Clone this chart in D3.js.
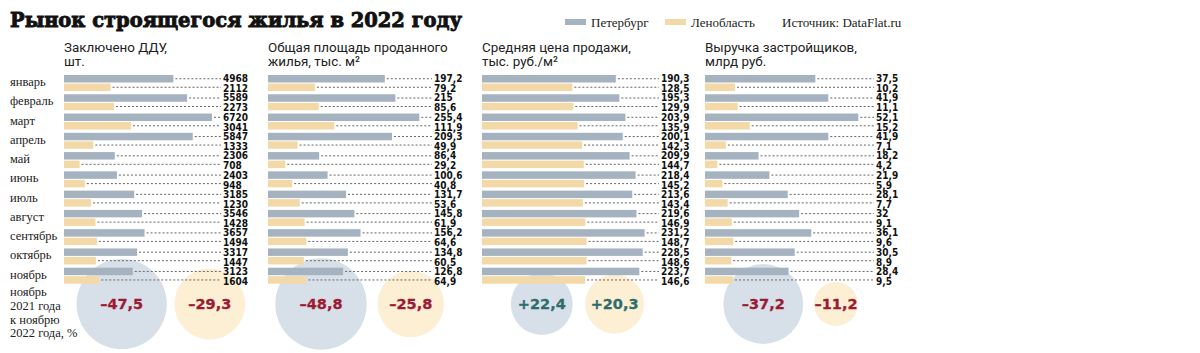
<!DOCTYPE html>
<html>
<head>
<meta charset="utf-8">
<script src="https://cdn.jsdelivr.net/npm/d3@7"></script>
<style>
  body { margin: 0; background: #fff; }
  svg { display: block; }
</style>
</head>
<body>
<div class="chart"></div>
<script>
var svgWidth = 1200;
var svgHeight = 353;

// data
var months = ["январь", "февраль", "март", "апрель", "май", "июнь", "июль", "август", "сентябрь", "октябрь", "ноябрь"];
var dduSpb = [4968, 5589, 6720, 5847, 2306, 2403, 3185, 3546, 3657, 3317, 3123];
var dduLo = [2112, 2273, 3041, 1333, 708, 948, 1230, 1428, 1494, 1447, 1604];
var areaSpb = [197.2, 215, 255.4, 209.3, 86.4, 100.6, 131.7, 145.8, 156.2, 134.8, 126.8];
var areaLo = [79.2, 85.6, 111.9, 49.9, 29.2, 40.8, 53.6, 61.9, 64.6, 60.5, 64.9];
var priceSpb = [190.3, 195.3, 203.9, 200.1, 209.9, 218.4, 213.6, 219.6, 231.2, 228.5, 223.7];
var priceLo = [128.5, 129.9, 135.9, 142.3, 144.7, 145.2, 143.4, 146.9, 148.7, 148.6, 146.6];
var revSpb = [37.5, 41.9, 52.1, 41.9, 18.2, 21.9, 28.1, 32, 36.1, 30.5, 28.4];
var revLo = [10.2, 11.1, 15.2, 7.1, 4.2, 5.9, 7.7, 9.1, 9.6, 8.9, 9.5];
var changeSpb = [-47.5, -48.8, 22.4, -37.2];
var changeLo = [-29.3, -25.8, 20.3, -11.2];
var headers = [
  ["Заключено ДДУ,", "шт."],
  ["Общая площадь проданного", "жилья, тыс. м²"],
  ["Средняя цена продажи,", "тыс. руб./м²"],
  ["Выручка застройщиков,", "млрд руб."]
];
var seriesNames = ["Петербург", "Ленобласть"];

// layout of the four panels
var panels = [
  { x: 64, max: 6720, maxW: 148, labelX: 223, c1: 57.7, c2: 145.8, spb: dduSpb, lo: dduLo },
  { x: 268, max: 255.4, maxW: 151.3, labelX: 434, c1: 53, c2: 142.8, spb: areaSpb, lo: areaLo },
  { x: 482, max: 231.2, maxW: 162.6, labelX: 661, c1: 59.8, c2: 132.6, spb: priceSpb, lo: priceLo },
  { x: 705, max: 52.1, maxW: 153.3, labelX: 876, c1: 58.3, c2: 131, spb: revSpb, lo: revLo }
];

var colSpb = "#a5b3c0";
var colLo = "#f3d9a7";
var circSpb = "#d7e0e8";
var circLo = "#fcefd4";
var red = "#9c1a33";
var teal = "#2f6d6c";

var serif = "'Liberation Serif', 'DejaVu Serif', serif";
var sans = "Roboto, 'Noto Sans', sans-serif";
var numFont = "'DejaVu Sans Condensed', 'DejaVu Sans', sans-serif";

var svg = d3.select(".chart")
  .append("svg")
  .attr("width", svgWidth)
  .attr("height", svgHeight);

// title
svg.append("text")
  .attr("x", 10)
  .attr("y", 27)
  .attr("font-family", "'DejaVu Serif', serif")
  .attr("font-weight", "bold")
  .attr("font-size", 19.5)
  .attr("fill", "#111")
  .attr("stroke", "#111")
  .attr("stroke-width", 0.9)
  .attr("textLength", 452)
  .attr("lengthAdjust", "spacingAndGlyphs")
  .text("Рынок строящегося жилья в 2022 году");

// legend
var legend = svg.append("g");
var legX = [565, 665];
seriesNames.forEach(function(name, i) {
  legend.append("rect")
    .attr("x", legX[i]).attr("y", 19)
    .attr("width", 21).attr("height", 6)
    .attr("fill", i === 0 ? colSpb : colLo);
  legend.append("text")
    .attr("x", legX[i] + 26).attr("y", 27)
    .attr("font-family", serif).attr("font-size", 13)
    .attr("fill", "#222")
    .text(name);
});
legend.append("text")
  .attr("x", 782).attr("y", 27)
  .attr("font-family", serif).attr("font-size", 13)
  .attr("fill", "#222")
  .text("Источник: DataFlat.ru");

// rows
var yRow = d3.scaleBand()
  .domain(months)
  .range([75, 75 + 19.27 * months.length]);

var ySub = d3.scaleBand()
  .domain(["spb", "lo"])
  .range([0, 16])
  .paddingInner(0.12);

// month labels
svg.append("g").selectAll("text")
  .data(months)
  .enter()
  .append("text")
  .attr("x", 10)
  .attr("y", d => yRow(d) + 11)
  .attr("font-family", serif)
  .attr("font-size", 12.5)
  .attr("fill", "#222")
  .text(d => d);

// bottom-left note
var note = ["ноябрь", "2021 года", "к ноябрю", "2022 года, %"];
svg.append("g").selectAll("text")
  .data(note)
  .enter()
  .append("text")
  .attr("x", 10)
  .attr("y", (d, i) => 296 + i * 13.8)
  .attr("font-family", serif)
  .attr("font-size", 12.5)
  .attr("fill", "#222")
  .text(d => d);

var rScale = d3.scaleSqrt().domain([0, 48.8]).range([0, 45.7]);

function fmt(v) {
  return String(v).replace(".", ",");
}
function fmtChange(v) {
  return (v < 0 ? "–" : "+") + fmt(Math.abs(v));
}

panels.forEach(function(p, pi) {
  var g = svg.append("g").attr("transform", `translate(${p.x},0)`);
  var x = d3.scaleLinear().domain([0, p.max]).range([0, p.maxW]);
  var lx = p.labelX - p.x;

  // header
  headers[pi].forEach(function(line, li) {
    g.append("text")
      .attr("x", 0)
      .attr("y", 52 + li * 14)
      .attr("font-family", sans)
      .attr("font-size", 13.4)
      .attr("fill", "#222")
      .text(line);
  });

  // circles (behind bars)
  var cy = 304;
  var circ = [
    { v: changeSpb[pi], cx: p.c1, fill: circSpb },
    { v: changeLo[pi], cx: p.c2, fill: circLo }
  ];
  g.selectAll("circle")
    .data(circ)
    .enter()
    .append("circle")
    .attr("cx", d => d.cx)
    .attr("cy", cy)
    .attr("r", d => rScale(Math.abs(d.v)))
    .attr("fill", d => d.fill);
  g.selectAll(".circ-label")
    .data(circ)
    .enter()
    .append("text")
    .attr("class", "circ-label")
    .attr("x", d => d.cx)
    .attr("y", cy + 5)
    .attr("text-anchor", "middle")
    .attr("font-family", "'DejaVu Sans', sans-serif")
    .attr("font-weight", "bold")
    .attr("font-size", 14.5)
    .attr("fill", d => d.v < 0 ? red : teal)
    .attr("stroke", d => d.v < 0 ? red : teal)
    .attr("stroke-width", 0.3)
    .text(d => fmtChange(d.v));

  // bars, leaders and values
  var rows = [];
  months.forEach(function(m, i) {
    rows.push({ m: m, s: "spb", v: p.spb[i] });
    rows.push({ m: m, s: "lo", v: p.lo[i] });
  });

  g.selectAll(".leader")
    .data(rows)
    .enter()
    .append("line")
    .attr("class", "leader")
    .attr("x1", d => x(d.v) + 2)
    .attr("x2", lx - 2)
    .attr("y1", d => yRow(d.m) + ySub(d.s) + ySub.bandwidth() / 2)
    .attr("y2", d => yRow(d.m) + ySub(d.s) + ySub.bandwidth() / 2)
    .attr("stroke", "#666")
    .attr("stroke-width", 1)
    .attr("stroke-dasharray", "2,2");

  g.selectAll(".bar")
    .data(rows)
    .enter()
    .append("rect")
    .attr("class", "bar")
    .attr("x", 0)
    .attr("y", d => yRow(d.m) + ySub(d.s))
    .attr("width", d => x(d.v))
    .attr("height", ySub.bandwidth())
    .attr("fill", d => d.s === "spb" ? colSpb : colLo);

  g.selectAll(".val")
    .data(rows)
    .enter()
    .append("text")
    .attr("class", "val")
    .attr("x", lx)
    .attr("y", d => yRow(d.m) + ySub(d.s) + ySub.bandwidth() + (d.s === "spb" ? -0.3 : 1.2))
    .attr("font-family", numFont)
    .attr("font-weight", "bold")
    .attr("font-size", 10)
    .attr("fill", "#111")
    .text(d => fmt(d.v));
});
</script>
</body>
</html>
